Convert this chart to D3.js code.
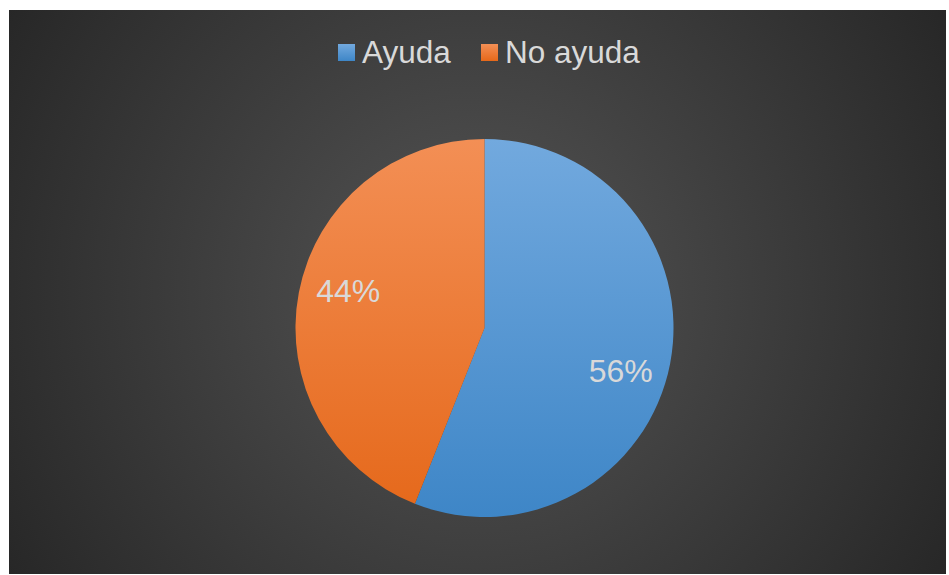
<!DOCTYPE html>
<html><head><meta charset="utf-8">
<script src="https://cdn.jsdelivr.net/npm/d3@7"></script>
<style>html,body{margin:0;padding:0;background:#fff;}svg{display:block;}</style>
</head><body>
<svg id="chart" width="949" height="575"></svg>
<script>
const categories = ["Ayuda", "No ayuda"];
const values = [56, 44];
const labels = ["56%", "44%"];
const colorsTop = ["#72a9de", "#f38f55"];
const colorsBottom = ["#3e86c7", "#e5681a"];

const svg = d3.select("#chart");
const defs = svg.append("defs");
const bg = defs.append("radialGradient").attr("id","bg")
  .attr("gradientUnits","userSpaceOnUse").attr("cx",477).attr("cy",292).attr("r",560);
bg.append("stop").attr("offset","0%").attr("stop-color","#555555");
bg.append("stop").attr("offset","100%").attr("stop-color","#262626");

const cx = 484.5, cy = 328, r = 189;

categories.forEach((c,i)=>{
  const g = defs.append("linearGradient").attr("id","g"+i)
    .attr("gradientUnits","userSpaceOnUse").attr("x1",0).attr("y1",-r).attr("x2",0).attr("y2",r);
  g.append("stop").attr("offset","0%").attr("stop-color",colorsTop[i]);
  g.append("stop").attr("offset","100%").attr("stop-color",colorsBottom[i]);
});

svg.append("rect").attr("x",9).attr("y",10).attr("width",937).attr("height",564).attr("fill","url(#bg)");

const pie = d3.pie().sort(null).value(d=>d);
const arcs = pie(values);
const arc = d3.arc().innerRadius(0).outerRadius(r);
const g = svg.append("g").attr("transform",`translate(${cx},${cy})`);
g.selectAll("path").data(arcs).join("path")
  .attr("d",arc)
  .attr("fill",(d,i)=>`url(#g${i})`)
  .attr("stroke","none");

const labelR = 142, shift = 5.5 * Math.PI/180;
g.selectAll("text.lbl").data(arcs).join("text").attr("class","lbl")
  .attr("x",d=>labelR*Math.sin((d.startAngle+d.endAngle)/2 + shift))
  .attr("y",d=>-labelR*Math.cos((d.startAngle+d.endAngle)/2 + shift) + 3)
  .attr("text-anchor","middle").attr("dominant-baseline","central")
  .attr("font-family","Liberation Sans, Arial, sans-serif").attr("font-size",32)
  .attr("fill","#d9d9d9")
  .text((d,i)=>labels[i]);

// legend
const legend = svg.append("g");
const legX = [338, 481];
categories.forEach((c,i)=>{
  const lg = defs.append("linearGradient").attr("id","lg"+i).attr("x1",0).attr("y1",0).attr("x2",0).attr("y2",1);
  lg.append("stop").attr("offset","0%").attr("stop-color",colorsTop[i]);
  lg.append("stop").attr("offset","100%").attr("stop-color",colorsBottom[i]);
  legend.append("rect").attr("x",legX[i]).attr("y",44).attr("width",17).attr("height",17)
    .attr("fill",`url(#lg${i})`);
  legend.append("text").attr("x",legX[i]+24).attr("y",51.5)
    .attr("dominant-baseline","central")
    .attr("font-family","Liberation Sans, Arial, sans-serif").attr("font-size",31.5)
    .attr("fill","#d9d9d9").text(c);
});
</script>
</body></html>
